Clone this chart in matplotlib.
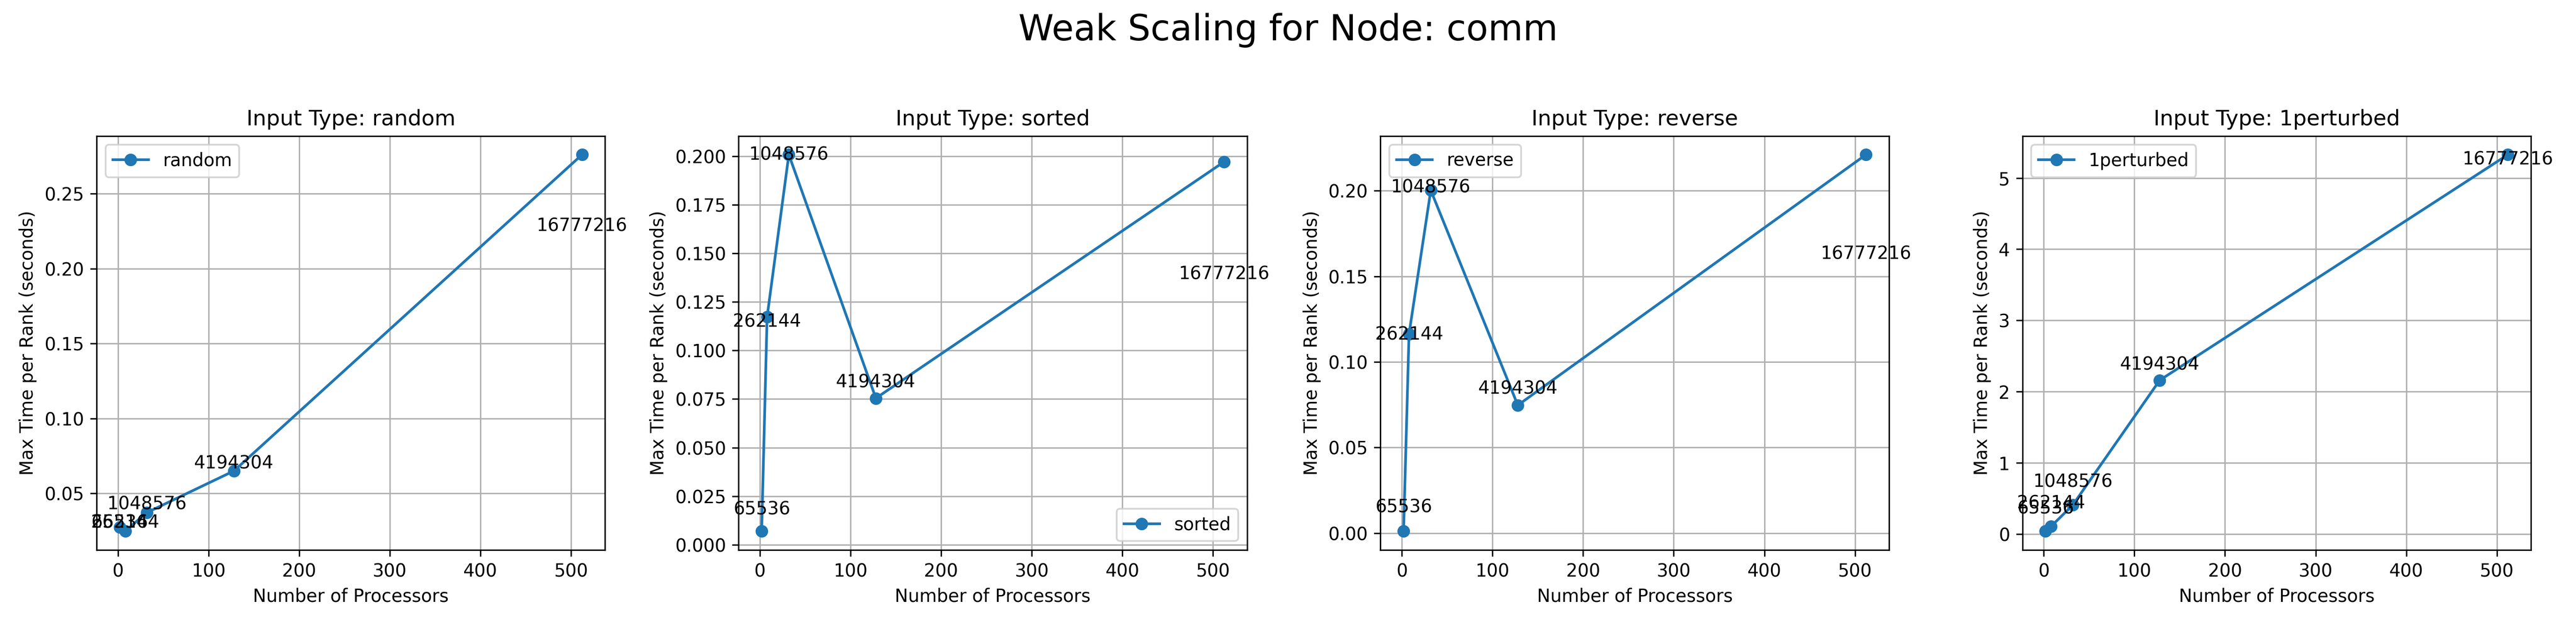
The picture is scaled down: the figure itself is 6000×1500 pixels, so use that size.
import matplotlib
matplotlib.use("Agg")
import matplotlib.pyplot as plt

processors = [2, 8, 32, 128, 512]
sizes = [65536, 262144, 1048576, 4194304, 16777216]
input_types = ["random", "sorted", "reverse", "1perturbed"]

max_time_random = [0.0275, 0.0248, 0.0372, 0.065, 0.276]
max_time_sorted = [0.0070, 0.1172, 0.2007, 0.0754, 0.197]
max_time_reverse = [0.0011, 0.1163, 0.2003, 0.0747, 0.2211]
max_time_1perturbed = [0.042, 0.108, 0.408, 2.161, 5.327]

# y positions of the size annotations (as they appear in the chart)
label_y_random = [0.0271, 0.0271, 0.0394, 0.0665, 0.225]
label_y_sorted = [0.0155, 0.112, 0.198, 0.081, 0.1366]
label_y_reverse = [0.012, 0.113, 0.199, 0.0814, 0.160]
label_y_1perturbed = [0.285, 0.358, 0.659, 2.307, 5.19]

series = [max_time_random, max_time_sorted, max_time_reverse, max_time_1perturbed]
label_ys = [label_y_random, label_y_sorted, label_y_reverse, label_y_1perturbed]
legend_locs = ["upper left", "lower right", "upper left", "upper left"]

fig, axes = plt.subplots(1, 4, figsize=(20, 5), dpi=300)
fig.subplots_adjust(left=0.0375, right=0.9825, top=0.789, bottom=0.146, wspace=0.2624)
fig.suptitle("Weak Scaling for Node: comm", fontsize=20)

for ax, name, vals, lys, loc in zip(axes, input_types, series, label_ys, legend_locs):
    ax.plot(processors, vals, marker="o", label=name)
    for p, ly, s in zip(processors, lys, sizes):
        ax.annotate(str(s), (p, ly), ha="center", fontsize=10)
    ax.set_title(f"Input Type: {name}")
    ax.set_xlabel("Number of Processors")
    ax.set_ylabel("Max Time per Rank (seconds)")
    ax.grid(True)
    ax.legend(loc=loc)

fig.savefig("out.png", dpi=300)
